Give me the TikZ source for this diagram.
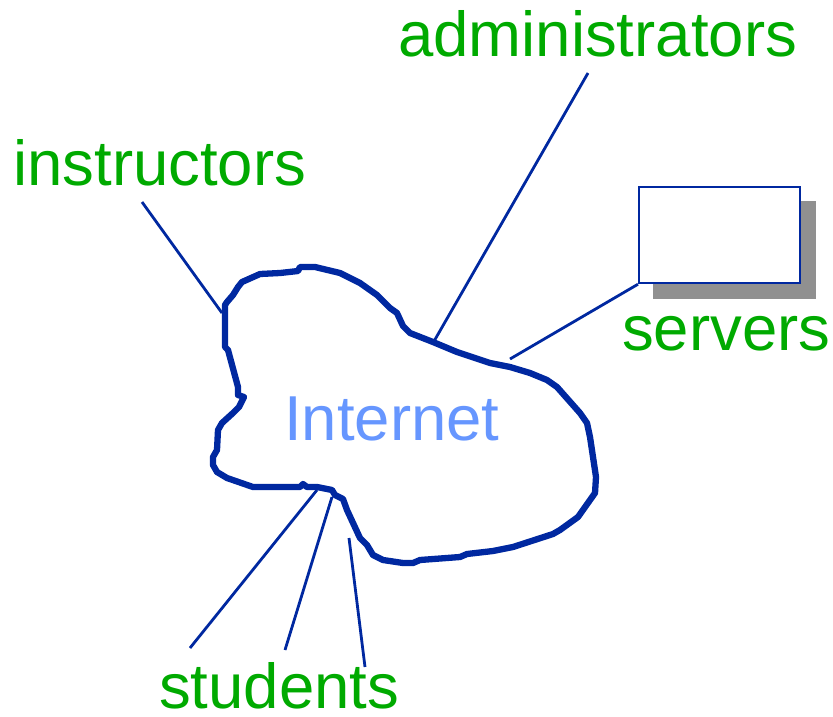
\documentclass[tikz,border=0pt]{standalone}
\usepackage{fontspec}
\setmainfont{Liberation Sans}
\definecolor{lblgreen}{RGB}{0,170,0}
\definecolor{netblue}{RGB}{0,40,160}
\definecolor{inetblue}{RGB}{102,150,255}
\definecolor{shadowgray}{RGB}{144,144,144}
\begin{document}
\begin{tikzpicture}[x=1pt,y=-1pt,
  lbl/.style={anchor=base west,inner sep=0pt,text=lblgreen,font=\fontsize{63.5}{70}\selectfont},
  cloudline/.style={draw=netblue,line width=6.3pt,line join=round,line cap=round},
  link/.style={draw=netblue,line width=2.8pt}]
\useasboundingbox (0,0) rectangle (833,716);
% cloud
\draw[cloudline] (225,305) -- (225,347) -- (228,350) -- (238,387) -- (238,395) -- (244,397) -- (239,407) -- (233,413) -- (222,423) -- (218,430) -- (217,450) -- (213,457) -- (213,465) -- (217,472) -- (227,478) -- (253,487) -- (300,487) -- (303,484) -- (307,487) -- (317,487) -- (332,490) -- (335,495) -- (343,499) -- (347,510) -- (360,538) -- (367,545) -- (373,555) -- (383,560) -- (403,563) -- (413,563) -- (420,560) -- (460,557) -- (467,554) -- (493,551) -- (513,547) -- (553,534) -- (560,530) -- (578,517) -- (595,493) -- (596,477) -- (590,437) -- (587,423) -- (580,413) -- (557,387) -- (547,380) -- (530,373) -- (510,367) -- (490,363) -- (457,352) -- (433,342) -- (410,333) -- (403,326) -- (397,313) -- (390,308) -- (377,295) -- (360,283) -- (340,273) -- (315,267) -- (300,267) -- (298,271) -- (280,273) -- (260,274) -- (242,282) -- (238,287) -- (233,295) -- (227,302) -- cycle;
% labels
\node[lbl] (admin) at (398,56) {administrators};
\node[lbl] (instr) at (13,185) {instructors};
\node[lbl] (serv) at (622,350) {servers};
\node[lbl] (stud) at (159,708) {students};
\node[anchor=base west,inner sep=0pt,text=inetblue,font=\fontsize{63.5}{70}\selectfont] (inet) at (284,440) {Internet};
% server box
\node[fill=shadowgray,inner sep=0pt,minimum width=163pt,minimum height=98pt,anchor=north west] (shadow) at (653,201) {};
\node[draw=netblue,line width=2.2pt,fill=white,inner sep=0pt,minimum width=161pt,minimum height=96pt,anchor=north west] (box) at (638,186) {};
% connector end points
\coordinate (i1) at (142,202); \coordinate (i2) at (222,313);
\coordinate (a1) at (588,73);  \coordinate (a2) at (433,343);
\coordinate (s2) at (510,359);
\coordinate (t1a) at (190,648); \coordinate (t1b) at (317,490);
\coordinate (t2a) at (285,650); \coordinate (t2b) at (332,497);
\coordinate (t3a) at (365,667); \coordinate (t3b) at (349,538);
\draw[link] (i1) -- (i2);
\draw[link] (a1) -- (a2);
\draw[link] (box.south west) -- (s2);
\draw[link] (t1a) -- (t1b);
\draw[link] (t2a) -- (t2b);
\draw[link] (t3a) -- (t3b);
\end{tikzpicture}
\end{document}
